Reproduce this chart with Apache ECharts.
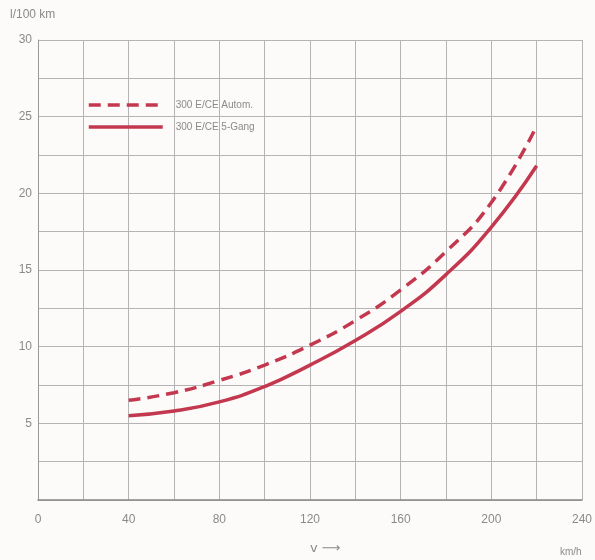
<!DOCTYPE html>
<html>
<head>
<meta charset="utf-8">
<script src="https://cdn.jsdelivr.net/npm/echarts@6/dist/echarts.min.js"></script>
<style>
  html, body { margin: 0; padding: 0; background: #fcfbf9; }
  #chart { width: 595px; height: 560px; }
</style>
</head>
<body>
<div id="chart"></div>
<script>
// speed in km/h
const speeds = [40, 60, 80, 100, 120, 140, 160, 180, 200, 220];
// l/100 km
const autom = [6.5, 7.0, 7.8, 8.8, 10.1, 11.7, 13.7, 16.2, 19.4, 24.4];
const gang5 = [5.5, 5.8, 6.4, 7.4, 8.8, 10.4, 12.3, 14.7, 17.8, 21.8];
const seriesNames = ['300 E/CE Autom.', '300 E/CE 5-Gang'];

const chart = echarts.init(document.getElementById('chart'));

const toPairs = vals => speeds.map((s, i) => [s, vals[i]]);
const textGray = '#8a8a8a';
const gridGray = '#b4b4b4';
const red = '#c4384f';

chart.setOption({
  backgroundColor: '#fcfbf9',
  animation: false,
  grid: { left: 38, right: 11, top: 40, bottom: 60 },
  legend: {
    left: 87,
    top: 100,
    padding: 0,
    orient: 'vertical',
    itemWidth: 74,
    itemHeight: 12,
    itemGap: 12,
    itemStyle: { opacity: 0 },
    lineStyle: { width: 3.5 },
    textStyle: { color: textGray, fontSize: 10, fontFamily: 'Liberation Sans', padding: [0, 0, 0, 8] },
    data: seriesNames
  },
  xAxis: {
    type: 'value',
    min: 0, max: 240, interval: 20,
    axisLine: { show: true, lineStyle: { color: '#888', width: 1.5 } },
    axisTick: { show: false },
    splitLine: { show: true, lineStyle: { color: gridGray, width: 1 } },
    axisLabel: {
      color: textGray, fontSize: 12, margin: 14,
      fontFamily: 'Liberation Sans',
      formatter: v => (v % 40 === 0 ? String(v) : '')
    }
  },
  yAxis: {
    type: 'value',
    min: 0, max: 30, interval: 2.5,
    axisLine: { show: true, lineStyle: { color: '#999', width: 1 } },
    axisTick: { show: false },
    splitLine: { show: true, lineStyle: { color: gridGray, width: 1 } },
    axisLabel: {
      color: textGray, fontSize: 12, margin: 6,
      fontFamily: 'Liberation Sans',
      formatter: v => (v % 5 === 0 && v !== 0 ? String(v) : '')
    }
  },
  graphic: [
    { type: 'text', left: 10, top: 9,
      style: { text: 'l/100 km', fill: textGray, font: '12px Liberation Sans' } },
    { type: 'text', left: 310, top: 542,
      style: { text: 'v ⟶', fill: textGray, font: '13px DejaVu Sans' } },
    { type: 'text', left: 560, top: 547,
      style: { text: 'km/h', fill: textGray, font: '10px Liberation Sans' } }
  ],
  series: [
    {
      name: seriesNames[0],
      type: 'line',
      data: toPairs(autom),
      smooth: true,
      symbol: 'none',
      lineStyle: { color: red, width: 3.5, type: [12, 7] },
      itemStyle: { color: red }
    },
    {
      name: seriesNames[1],
      type: 'line',
      data: toPairs(gang5),
      smooth: true,
      symbol: 'none',
      lineStyle: { color: red, width: 3.5 },
      itemStyle: { color: red }
    }
  ]
});
</script>
</body>
</html>
